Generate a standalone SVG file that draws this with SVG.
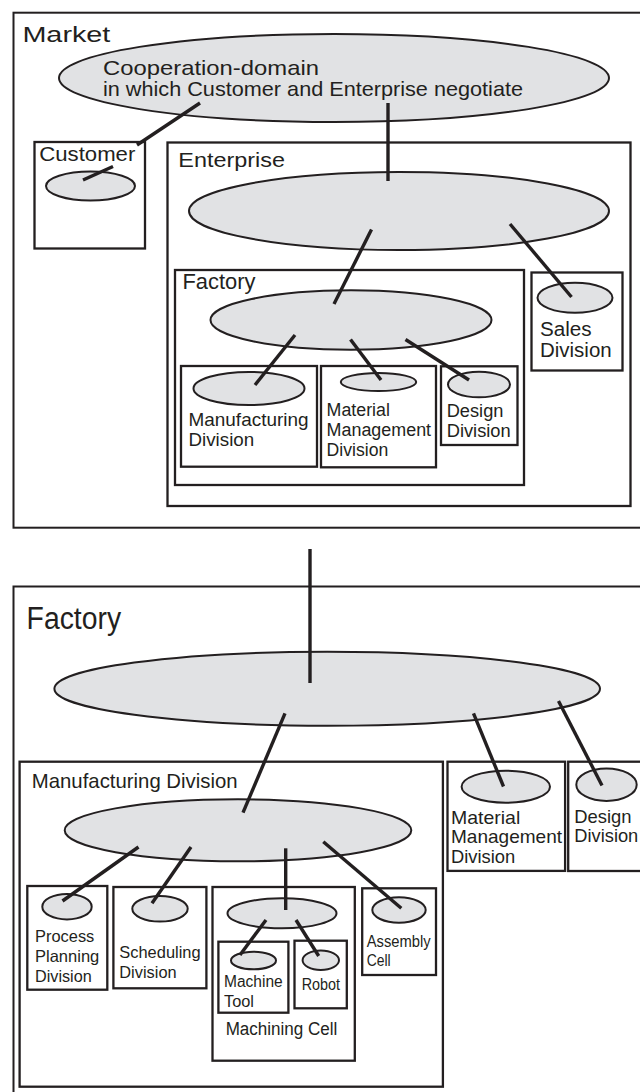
<svg xmlns="http://www.w3.org/2000/svg" width="640" height="1092" viewBox="0 0 640 1092">
  <style>
    .box { fill: none; stroke: #231f20; stroke-width: 2.3; }
    .outer { fill: none; stroke: #231f20; stroke-width: 2; }
    .dom { fill: #e1e2e4; stroke: #231f20; stroke-width: 2; }
    .link { stroke: #231f20; stroke-width: 3.4; fill: none; }
    text { font-family: "Liberation Sans", Arial, Helvetica, sans-serif; fill: #231f20; }
  </style>
  <rect x="0" y="0" width="640" height="1092" fill="#ffffff"/>

  <!-- ===== Upper view: market level ===== -->
  <g id="market">
    <rect class="outer" x="13.5" y="12.7" width="632" height="515"/>
    <text x="22.4" y="41.5" font-size="22" textLength="88" lengthAdjust="spacingAndGlyphs">Market</text>
    <ellipse class="dom" cx="334" cy="78" rx="275" ry="44"/>
    <text x="103" y="75" font-size="21" textLength="216" lengthAdjust="spacingAndGlyphs">Cooperation-domain</text>
    <text x="103" y="96" font-size="21" textLength="420" lengthAdjust="spacingAndGlyphs">in which Customer and Enterprise negotiate</text>
  </g>

  <g id="customer">
    <rect class="box" x="34.5" y="142" width="110.5" height="106.5"/>
    <text x="39.3" y="160.7" font-size="20" textLength="96" lengthAdjust="spacingAndGlyphs">Customer</text>
    <ellipse class="dom" cx="90.5" cy="186" rx="44.5" ry="14.5"/>
  </g>

  <g id="enterprise">
    <rect class="box" x="167.5" y="142.5" width="463" height="363.5"/>
    <text x="178.3" y="167.3" font-size="20.5" textLength="106.7" lengthAdjust="spacingAndGlyphs">Enterprise</text>
    <ellipse class="dom" cx="399" cy="211" rx="210" ry="39"/>
  </g>

  <g id="factory-upper">
    <rect class="box" x="175" y="270" width="349" height="215"/>
    <text x="182.5" y="288.8" font-size="21.5" textLength="73" lengthAdjust="spacingAndGlyphs">Factory</text>
    <ellipse class="dom" cx="351" cy="320" rx="140.5" ry="29.7"/>
  </g>

  <g id="sales-division">
    <rect class="box" x="531.5" y="272.5" width="91" height="98"/>
    <ellipse class="dom" cx="575" cy="297.7" rx="37.5" ry="15"/>
    <text x="540" y="335.5" font-size="20" textLength="51.7" lengthAdjust="spacingAndGlyphs">Sales</text>
    <text x="540" y="357" font-size="20" textLength="71.7" lengthAdjust="spacingAndGlyphs">Division</text>
  </g>

  <g id="manufacturing-division-upper">
    <rect class="box" x="181" y="366" width="136" height="100.7"/>
    <ellipse class="dom" cx="249" cy="388.5" rx="55.5" ry="16.5"/>
    <text x="188.5" y="426.3" font-size="18.5" textLength="120" lengthAdjust="spacingAndGlyphs">Manufacturing</text>
    <text x="188.5" y="445.5" font-size="18.5" textLength="65.7" lengthAdjust="spacingAndGlyphs">Division</text>
  </g>

  <g id="material-management-division-upper">
    <rect class="box" x="321" y="366" width="115" height="101.3"/>
    <ellipse class="dom" cx="378.5" cy="382" rx="37.7" ry="9"/>
    <text x="326.6" y="416.2" font-size="18" textLength="63.3" lengthAdjust="spacingAndGlyphs">Material</text>
    <text x="326.6" y="435.5" font-size="18" textLength="104.5" lengthAdjust="spacingAndGlyphs">Management</text>
    <text x="326.6" y="455.5" font-size="18" textLength="61.7" lengthAdjust="spacingAndGlyphs">Division</text>
  </g>

  <g id="design-division-upper">
    <rect class="box" x="441" y="366.3" width="76.5" height="78.7"/>
    <ellipse class="dom" cx="479" cy="384.5" rx="31" ry="12.8"/>
    <text x="446.7" y="416.7" font-size="18" textLength="56.7" lengthAdjust="spacingAndGlyphs">Design</text>
    <text x="446.7" y="436.7" font-size="18" textLength="64" lengthAdjust="spacingAndGlyphs">Division</text>
  </g>

  <!-- ===== Lower view: factory level ===== -->
  <g id="factory-lower">
    <rect class="outer" x="13.5" y="586.5" width="632" height="512"/>
    <text x="26.6" y="628.7" font-size="31" textLength="94.5" lengthAdjust="spacingAndGlyphs">Factory</text>
    <ellipse class="dom" cx="327.2" cy="688.7" rx="272.8" ry="37"/>
  </g>

  <g id="manufacturing-division-lower">
    <rect class="box" x="19.6" y="761.7" width="423.3" height="325"/>
    <text x="31.8" y="788.3" font-size="21" textLength="205.8" lengthAdjust="spacingAndGlyphs">Manufacturing Division</text>
    <ellipse class="dom" cx="238" cy="830.3" rx="173.3" ry="31"/>
  </g>

  <g id="process-planning-division">
    <rect class="box" x="27.3" y="886" width="80" height="103.7"/>
    <ellipse class="dom" cx="67" cy="906.7" rx="24.7" ry="12.7"/>
    <text x="35" y="941.7" font-size="16.5" textLength="59.3" lengthAdjust="spacingAndGlyphs">Process</text>
    <text x="35" y="961.7" font-size="16.5" textLength="64.3" lengthAdjust="spacingAndGlyphs">Planning</text>
    <text x="35" y="981.7" font-size="16.5" textLength="56.7" lengthAdjust="spacingAndGlyphs">Division</text>
  </g>

  <g id="scheduling-division">
    <rect class="box" x="113.4" y="887" width="93" height="101.3"/>
    <ellipse class="dom" cx="160" cy="908.8" rx="27.7" ry="12.8"/>
    <text x="119.3" y="958.3" font-size="16.5" textLength="81.3" lengthAdjust="spacingAndGlyphs">Scheduling</text>
    <text x="119.3" y="978.3" font-size="16.5" textLength="57.3" lengthAdjust="spacingAndGlyphs">Division</text>
  </g>

  <g id="machining-cell">
    <rect class="box" x="212.5" y="887" width="142.3" height="173.7"/>
    <ellipse class="dom" cx="282" cy="913.3" rx="54.5" ry="15"/>
    <text x="225.7" y="1035" font-size="18" textLength="111.7" lengthAdjust="spacingAndGlyphs">Machining Cell</text>
  </g>

  <g id="machine-tool">
    <rect class="box" x="218.4" y="941.7" width="70" height="71"/>
    <ellipse class="dom" cx="253.5" cy="960.5" rx="22.5" ry="8.8"/>
    <text x="224" y="986.7" font-size="16" textLength="58.7" lengthAdjust="spacingAndGlyphs">Machine</text>
    <text x="224" y="1006.7" font-size="16" textLength="30" lengthAdjust="spacingAndGlyphs">Tool</text>
  </g>

  <g id="robot">
    <rect class="box" x="294.5" y="940.7" width="52.3" height="67.6"/>
    <ellipse class="dom" cx="320.8" cy="960.3" rx="18.2" ry="9.7"/>
    <text x="301.7" y="990" font-size="16" textLength="38.3" lengthAdjust="spacingAndGlyphs">Robot</text>
  </g>

  <g id="assembly-cell">
    <rect class="box" x="362.2" y="888.3" width="73.8" height="86.7"/>
    <ellipse class="dom" cx="399" cy="910" rx="26.7" ry="12.7"/>
    <text x="366.7" y="946.7" font-size="16.5" textLength="64" lengthAdjust="spacingAndGlyphs">Assembly</text>
    <text x="366.7" y="965.7" font-size="16.5" textLength="24" lengthAdjust="spacingAndGlyphs">Cell</text>
  </g>

  <g id="material-management-division-lower">
    <rect class="box" x="447.5" y="761.7" width="117.6" height="109.2"/>
    <ellipse class="dom" cx="505.8" cy="786.7" rx="44.2" ry="16"/>
    <text x="451" y="823.6" font-size="18.5" textLength="69.3" lengthAdjust="spacingAndGlyphs">Material</text>
    <text x="451" y="842.5" font-size="18.5" textLength="111" lengthAdjust="spacingAndGlyphs">Management</text>
    <text x="451" y="862.5" font-size="18.5" textLength="64.3" lengthAdjust="spacingAndGlyphs">Division</text>
  </g>

  <g id="design-division-lower">
    <rect class="box" x="568.2" y="761.7" width="80" height="109.3"/>
    <ellipse class="dom" cx="606.5" cy="784.7" rx="30.2" ry="16.3"/>
    <text x="574.3" y="822.7" font-size="18.5" textLength="57.3" lengthAdjust="spacingAndGlyphs">Design</text>
    <text x="574.3" y="841.7" font-size="18.5" textLength="64" lengthAdjust="spacingAndGlyphs">Division</text>
  </g>

  <!-- ===== Connectors ===== -->
  <g id="connectors" class="link">
    <line x1="200" y1="103" x2="137" y2="145"/>
    <line x1="83" y1="180" x2="113" y2="166.5"/>
    <line x1="388" y1="103" x2="388" y2="181"/>
    <line x1="371.5" y1="229.5" x2="334" y2="304"/>
    <line x1="510" y1="224" x2="571.5" y2="297"/>
    <line x1="295" y1="335" x2="255" y2="385"/>
    <line x1="350.5" y1="339.5" x2="381" y2="380"/>
    <line x1="405.5" y1="339.5" x2="469" y2="380"/>
    <line x1="310" y1="549" x2="310" y2="683"/>
    <line x1="285" y1="713.3" x2="243" y2="812.7"/>
    <line x1="473.5" y1="713.3" x2="503.5" y2="786.5"/>
    <line x1="558.5" y1="701" x2="602" y2="785.5"/>
    <line x1="138.5" y1="847" x2="62.5" y2="901"/>
    <line x1="191" y1="847" x2="152" y2="903.3"/>
    <line x1="285.7" y1="848.3" x2="285.7" y2="910"/>
    <line x1="323.3" y1="841.7" x2="401.3" y2="908.3"/>
    <line x1="266" y1="920" x2="240" y2="955"/>
    <line x1="296" y1="920" x2="318.7" y2="956"/>
  </g>
</svg>
